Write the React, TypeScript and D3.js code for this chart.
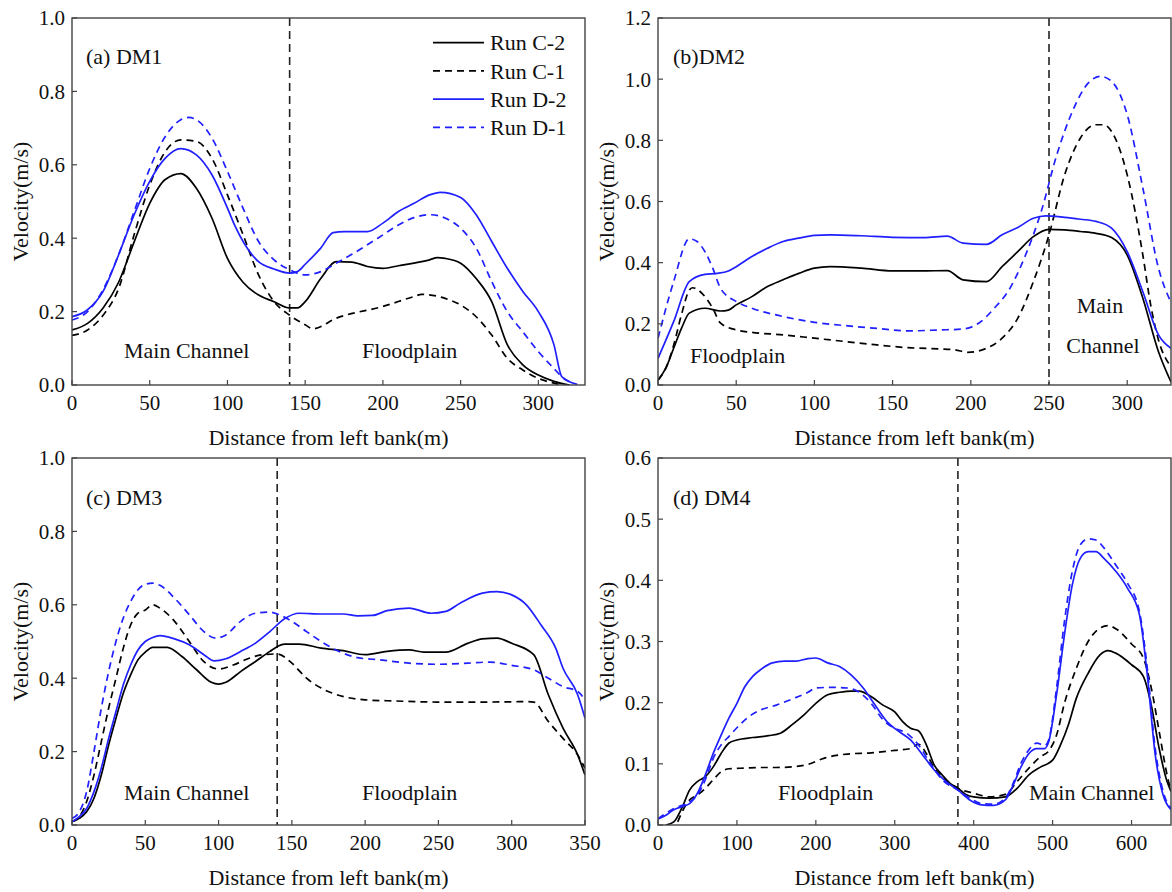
import * as d3 from 'd3';
import React from 'react';

type Pt = [number, number];

// ---- (a) DM1 ----
const dm1C2: Pt[] = [[0,0.15],[10,0.168],[20,0.21],[30,0.28],[40,0.39],[50,0.495],[60,0.56],[70,0.576],[80,0.536],[90,0.455],[100,0.345],[110,0.28],[120,0.245],[130,0.227],[140,0.21],[145,0.21],[150,0.227],[160,0.29],[170,0.336],[180,0.335],[190,0.323],[200,0.318],[210,0.325],[220,0.332],[230,0.341],[235,0.347],[240,0.345],[250,0.332],[260,0.29],[270,0.227],[280,0.11],[290,0.055],[300,0.027],[310,0.01],[320,0.0]];
const dm1C1: Pt[] = [[0,0.135],[10,0.15],[20,0.19],[30,0.263],[40,0.41],[50,0.545],[60,0.636],[70,0.668],[80,0.664],[90,0.618],[100,0.518],[110,0.41],[120,0.3],[130,0.227],[140,0.19],[150,0.164],[155,0.153],[170,0.182],[200,0.214],[220,0.241],[225,0.247],[240,0.236],[250,0.218],[260,0.186],[270,0.136],[280,0.073],[290,0.041],[300,0.018],[310,0.005],[315,0.0]];
const dm1D2: Pt[] = [[0,0.186],[10,0.205],[20,0.255],[30,0.355],[40,0.464],[50,0.555],[60,0.618],[70,0.644],[80,0.627],[90,0.573],[100,0.482],[105,0.432],[120,0.336],[130,0.316],[140,0.305],[145,0.309],[150,0.329],[160,0.373],[168,0.415],[175,0.418],[190,0.418],[200,0.441],[210,0.473],[220,0.495],[230,0.518],[237,0.525],[250,0.511],[260,0.464],[270,0.391],[280,0.318],[290,0.255],[300,0.2],[310,0.11],[315,0.023],[320,0.009],[325,0.002]];
const dm1D1: Pt[] = [[0,0.177],[10,0.2],[20,0.26],[30,0.355],[40,0.473],[50,0.59],[60,0.677],[70,0.723],[75,0.729],[80,0.723],[90,0.673],[100,0.582],[110,0.482],[120,0.391],[130,0.341],[140,0.314],[150,0.3],[160,0.309],[170,0.332],[180,0.356],[190,0.382],[200,0.409],[210,0.436],[220,0.456],[230,0.464],[240,0.455],[250,0.427],[260,0.373],[270,0.282],[280,0.2],[290,0.145],[300,0.091],[310,0.045],[315,0.023],[320,0.009]];

// ---- (b) DM2 ----
const dm2C2: Pt[] = [[0,0.016],[5,0.055],[10,0.12],[15,0.185],[20,0.235],[30,0.251],[40,0.242],[45,0.245],[50,0.262],[60,0.289],[70,0.322],[80,0.344],[90,0.365],[100,0.382],[110,0.387],[130,0.382],[150,0.373],[170,0.373],[185,0.374],[195,0.344],[210,0.338],[220,0.387],[230,0.436],[240,0.485],[250,0.509],[260,0.507],[270,0.502],[280,0.496],[290,0.482],[300,0.425],[310,0.284],[320,0.109],[328,0.01]];
const dm2C1: Pt[] = [[0,0.016],[5,0.055],[10,0.13],[15,0.23],[20,0.31],[22,0.318],[30,0.289],[35,0.251],[40,0.202],[50,0.18],[60,0.172],[80,0.164],[100,0.153],[120,0.142],[140,0.131],[160,0.122],[180,0.118],[190,0.115],[198,0.107],[210,0.12],[220,0.153],[230,0.218],[240,0.338],[250,0.491],[260,0.687],[270,0.807],[280,0.851],[285,0.851],[290,0.829],[300,0.687],[310,0.425],[315,0.262],[320,0.147],[328,0.06]];
const dm2D2: Pt[] = [[0,0.087],[10,0.207],[20,0.338],[30,0.362],[38,0.365],[45,0.373],[50,0.387],[60,0.42],[70,0.447],[80,0.469],[90,0.48],[100,0.489],[110,0.491],[130,0.488],[150,0.483],[170,0.482],[185,0.487],[195,0.464],[210,0.46],[220,0.491],[230,0.515],[240,0.545],[248,0.553],[260,0.548],[270,0.542],[280,0.535],[290,0.513],[300,0.436],[310,0.305],[320,0.164],[328,0.12]];
const dm2D1: Pt[] = [[0,0.153],[10,0.338],[20,0.478],[25,0.469],[30,0.436],[35,0.382],[40,0.316],[50,0.273],[60,0.251],[80,0.224],[100,0.205],[120,0.194],[140,0.185],[160,0.177],[180,0.18],[195,0.183],[205,0.202],[215,0.251],[225,0.316],[235,0.425],[245,0.567],[255,0.753],[265,0.895],[275,0.987],[283,1.009],[290,0.993],[300,0.884],[310,0.644],[320,0.382],[328,0.27]];

// ---- (c) DM3 ----
const dm3C2: Pt[] = [[0,0.009],[5,0.018],[10,0.036],[15,0.073],[20,0.136],[25,0.218],[30,0.291],[35,0.359],[40,0.409],[45,0.45],[50,0.471],[55,0.484],[65,0.484],[75,0.459],[85,0.423],[95,0.389],[100,0.384],[105,0.389],[115,0.418],[125,0.445],[135,0.473],[140,0.486],[145,0.493],[155,0.493],[170,0.482],[185,0.475],[200,0.464],[215,0.473],[230,0.477],[240,0.471],[255,0.471],[270,0.495],[280,0.507],[290,0.509],[300,0.495],[315,0.464],[325,0.355],[335,0.264],[345,0.191],[350,0.136]];
const dm3C1: Pt[] = [[0,0.009],[5,0.023],[10,0.064],[15,0.136],[20,0.227],[25,0.318],[30,0.4],[35,0.482],[40,0.545],[45,0.577],[50,0.586],[55,0.6],[60,0.591],[70,0.555],[80,0.5],[90,0.445],[100,0.425],[110,0.436],[120,0.453],[130,0.464],[140,0.466],[150,0.441],[160,0.4],[170,0.373],[180,0.356],[200,0.341],[220,0.338],[250,0.335],[280,0.335],[310,0.336],[315,0.335],[325,0.282],[335,0.236],[345,0.191],[350,0.155]];
const dm3D2: Pt[] = [[0,0.009],[5,0.023],[10,0.045],[15,0.091],[20,0.155],[25,0.236],[30,0.309],[35,0.382],[40,0.436],[45,0.477],[50,0.5],[55,0.511],[60,0.516],[70,0.507],[80,0.491],[90,0.464],[97,0.447],[105,0.453],[115,0.473],[125,0.495],[135,0.527],[145,0.562],[155,0.577],[170,0.575],[185,0.575],[195,0.57],[205,0.571],[215,0.584],[230,0.591],[245,0.577],[255,0.582],[265,0.605],[280,0.632],[290,0.636],[300,0.627],[310,0.6],[320,0.545],[330,0.482],[335,0.427],[345,0.355],[350,0.291]];
const dm3D1: Pt[] = [[0,0.018],[5,0.036],[10,0.091],[15,0.2],[20,0.318],[25,0.418],[30,0.5],[35,0.564],[40,0.609],[45,0.641],[50,0.656],[55,0.659],[60,0.653],[70,0.618],[80,0.573],[90,0.527],[98,0.509],[105,0.518],[115,0.555],[125,0.577],[135,0.58],[140,0.575],[150,0.555],[160,0.527],[170,0.5],[180,0.477],[195,0.456],[210,0.45],[230,0.441],[250,0.438],[270,0.441],[285,0.444],[300,0.435],[315,0.423],[325,0.4],[335,0.377],[345,0.364],[350,0.341]];

// ---- (d) DM4 ----
const dm4C2: Pt[] = [[10,0.0],[20,0.005],[30,0.027],[40,0.057],[50,0.071],[60,0.079],[70,0.095],[80,0.117],[90,0.134],[100,0.139],[120,0.143],[140,0.146],[155,0.15],[170,0.164],[185,0.18],[200,0.199],[215,0.213],[230,0.217],[245,0.219],[255,0.219],[270,0.21],[285,0.196],[300,0.185],[310,0.169],[320,0.158],[330,0.154],[340,0.131],[350,0.098],[360,0.082],[370,0.068],[380,0.06],[390,0.05],[400,0.046],[420,0.044],[440,0.046],[455,0.06],[470,0.082],[485,0.095],[500,0.106],[510,0.131],[520,0.164],[530,0.207],[545,0.248],[560,0.278],[570,0.285],[580,0.281],[600,0.262],[615,0.243],[625,0.196],[635,0.125],[645,0.071],[650,0.055]];
const dm4C1: Pt[] = [[25,0.005],[30,0.02],[40,0.041],[50,0.049],[60,0.06],[70,0.074],[80,0.087],[90,0.092],[110,0.093],[130,0.094],[150,0.094],[170,0.095],[190,0.099],[210,0.109],[240,0.116],[270,0.118],[300,0.122],[320,0.125],[330,0.132],[340,0.117],[350,0.093],[360,0.079],[380,0.06],[400,0.052],[420,0.046],[440,0.05],[455,0.071],[470,0.093],[485,0.112],[495,0.121],[505,0.147],[515,0.199],[530,0.256],[545,0.3],[560,0.322],[570,0.326],[580,0.321],[600,0.296],[615,0.273],[625,0.224],[635,0.153],[645,0.082],[650,0.055]];
const dm4D2: Pt[] = [[0,0.01],[10,0.016],[20,0.025],[30,0.03],[40,0.035],[50,0.052],[60,0.082],[70,0.117],[80,0.147],[90,0.175],[100,0.199],[110,0.226],[120,0.243],[130,0.254],[145,0.265],[160,0.268],[175,0.268],[190,0.272],[200,0.273],[215,0.265],[230,0.259],[245,0.245],[260,0.224],[275,0.196],[290,0.169],[305,0.153],[320,0.139],[335,0.115],[350,0.09],[365,0.071],[380,0.057],[395,0.041],[410,0.033],[425,0.032],[440,0.041],[450,0.065],[460,0.095],[470,0.117],[480,0.125],[490,0.125],[495,0.136],[505,0.213],[515,0.311],[525,0.393],[535,0.436],[545,0.447],[555,0.447],[565,0.436],[580,0.415],[595,0.387],[610,0.344],[620,0.245],[630,0.115],[640,0.049],[650,0.025]];
const dm4D1: Pt[] = [[0,0.01],[20,0.027],[40,0.038],[50,0.049],[60,0.074],[70,0.109],[80,0.131],[90,0.145],[100,0.159],[115,0.177],[130,0.188],[150,0.196],[170,0.206],[190,0.217],[200,0.224],[220,0.225],[240,0.224],[255,0.217],[270,0.199],[285,0.172],[300,0.158],[315,0.15],[330,0.131],[345,0.101],[360,0.074],[380,0.057],[395,0.044],[410,0.035],[425,0.034],[440,0.044],[450,0.068],[460,0.101],[470,0.123],[480,0.134],[490,0.13],[495,0.139],[505,0.224],[515,0.333],[525,0.415],[535,0.458],[545,0.468],[555,0.466],[565,0.453],[580,0.425],[595,0.395],[610,0.349],[620,0.256],[630,0.125],[640,0.055],[650,0.027]];

const runNames = ['Run C-2', 'Run C-1', 'Run D-2', 'Run D-1'];
const runColors = ['#000000', '#000000', '#1f1fff', '#1f1fff'];
const runDash = [null, '7,5', null, '7,5'];

const xTicks350 = [0, 50, 100, 150, 200, 250, 300, 350];
const xTicks300 = [0, 50, 100, 150, 200, 250, 300];
const xTicks600 = [0, 100, 200, 300, 400, 500, 600];
const yTicks10 = [0, 0.2, 0.4, 0.6, 0.8, 1.0];
const yTicks12 = [0, 0.2, 0.4, 0.6, 0.8, 1.0, 1.2];
const yTicks06 = [0, 0.1, 0.2, 0.3, 0.4, 0.5, 0.6];

const X_TITLE = 'Distance from left bank(m)';
const Y_TITLE = 'Velocity(m/s)';
const FONT = '"Liberation Serif", "Times New Roman", serif';

type Note = { text: string; dx: number; dy: number; anchor?: string };

const panels = [
  {
    id: 'a', frame: { left: 72, top: 18, right: 585, bottom: 385 },
    xDomain: [0, 330], xTicks: xTicks300, yDomain: [0, 1.0], yTicks: yTicks10,
    divider: 140, series: [dm1C2, dm1C1, dm1D2, dm1D1], legend: true,
    notes: [
      { text: '(a) DM1', dx: 14, dy: 46 },
      { text: 'Main Channel', dx: 52, dy: 340 },
      { text: 'Floodplain', dx: 290, dy: 340 },
    ] as Note[],
  },
  {
    id: 'b', frame: { left: 658, top: 18, right: 1171, bottom: 385 },
    xDomain: [0, 328], xTicks: xTicks300, yDomain: [0, 1.2], yTicks: yTicks12,
    divider: 250, series: [dm2C2, dm2C1, dm2D2, dm2D1], legend: false,
    notes: [
      { text: '(b)DM2', dx: 15, dy: 46 },
      { text: 'Floodplain', dx: 32, dy: 345 },
      { text: 'Main', dx: 442, dy: 295, anchor: 'middle' },
      { text: 'Channel', dx: 445, dy: 335, anchor: 'middle' },
    ] as Note[],
  },
  {
    id: 'c', frame: { left: 72, top: 458, right: 585, bottom: 825 },
    xDomain: [0, 350], xTicks: xTicks350, yDomain: [0, 1.0], yTicks: yTicks10,
    divider: 140, series: [dm3C2, dm3C1, dm3D2, dm3D1], legend: false,
    notes: [
      { text: '(c) DM3', dx: 14, dy: 47 },
      { text: 'Main Channel', dx: 52, dy: 342 },
      { text: 'Floodplain', dx: 290, dy: 342 },
    ] as Note[],
  },
  {
    id: 'd', frame: { left: 658, top: 458, right: 1171, bottom: 825 },
    xDomain: [0, 650], xTicks: xTicks600, yDomain: [0, 0.6], yTicks: yTicks06,
    divider: 380, series: [dm4C2, dm4C1, dm4D2, dm4D1], legend: false,
    notes: [
      { text: '(d) DM4', dx: 15, dy: 47 },
      { text: 'Floodplain', dx: 120, dy: 342 },
      { text: 'Main Channel', dx: 371, dy: 342 },
    ] as Note[],
  },
];

function Panel({ p }: { p: typeof panels[number] }) {
  const { left, top, right, bottom } = p.frame;
  const x = d3.scaleLinear().domain(p.xDomain).range([left, right]);
  const y = d3.scaleLinear().domain(p.yDomain).range([bottom, top]);
  const line = d3.line<Pt>().x(d => x(d[0])).y(d => y(d[1])).curve(d3.curveMonotoneX);
  const clipId = `clip-${p.id}`;
  const axisColor = '#444';
  return (
    <g>
      <defs>
        <clipPath id={clipId}>
          <rect x={left} y={top} width={right - left} height={bottom - top} />
        </clipPath>
      </defs>
      <g clipPath={`url(#${clipId})`}>
        <line x1={x(p.divider)} x2={x(p.divider)} y1={top} y2={bottom}
          stroke="#222" strokeWidth={1.6} strokeDasharray="8,5" />
        {p.series.map((s, i) => (
          <path key={i} d={line(s) || ''} fill="none" stroke={runColors[i]}
            strokeWidth={1.7} strokeDasharray={runDash[i] || undefined} />
        ))}
      </g>
      {/* ticks, inward */}
      {p.xTicks.map(t => (
        <g key={'x' + t}>
          <line x1={x(t)} x2={x(t)} y1={bottom} y2={bottom - 5} stroke={axisColor} strokeWidth={1.2} />
          <text x={x(t)} y={bottom + 25} textAnchor="middle" fontSize={21} fontFamily={FONT} fill="#111">{t}</text>
        </g>
      ))}
      {p.yTicks.map(t => (
        <g key={'y' + t}>
          <line x1={left} x2={left + 5} y1={y(t)} y2={y(t)} stroke={axisColor} strokeWidth={1.2} />
          <text x={left - 7} y={y(t)} dy="0.35em" textAnchor="end" fontSize={21} fontFamily={FONT} fill="#111">{d3.format('.1f')(t)}</text>
        </g>
      ))}
      <rect x={left} y={top} width={right - left} height={bottom - top} fill="none" stroke={axisColor} strokeWidth={1.4} />
      {p.notes.map((n, i) => (
        <text key={i} x={left + n.dx} y={top + n.dy} textAnchor={n.anchor || 'start'} fontSize={22} fontFamily={FONT} fill="#111">{n.text}</text>
      ))}
      <text x={(left + right) / 2} y={bottom + 60} textAnchor="middle" fontSize={22} fontFamily={FONT} fill="#111">{X_TITLE}</text>
      <text transform={`translate(${left - 44},${(top + bottom) / 2}) rotate(-90)`} textAnchor="middle" fontSize={22} fontFamily={FONT} fill="#111">{Y_TITLE}</text>
      {p.legend && runNames.map((name, i) => {
        const ly = top + 24.7 + i * 28.2;
        return (
          <g key={name}>
            <line x1={left + 361} x2={left + 412} y1={ly} y2={ly} stroke={runColors[i]} strokeWidth={1.7}
              strokeDasharray={runDash[i] || undefined} />
            <text x={left + 418} y={ly} dy="0.35em" fontSize={22} fontFamily={FONT} fill="#111">{name}</text>
          </g>
        );
      })}
    </g>
  );
}

export default function App() {
  return (
    <div style={{ position: 'absolute', left: 0, top: 0 }}>
      <svg width={1172} height={892} style={{ display: 'block', background: '#fff' }}>
        {panels.map(p => <Panel key={p.id} p={p} />)}
      </svg>
    </div>
  );
}
